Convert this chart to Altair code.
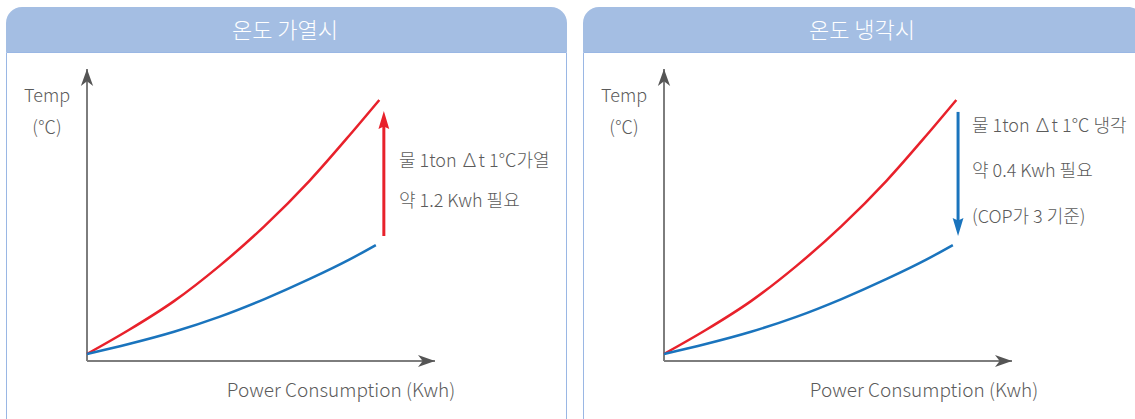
import altair as alt
import pandas as pd

# Curve samples (power in axis units, temperature in axis units)
DIRECT_POWER = [0, 1.2, 2.5, 3.8, 5.1, 6.4, 7.55, 8.4]
DIRECT_TEMP = [0.24, 1.06, 2.05, 3.25, 4.62, 6.18, 7.74, 8.94]
PUMP_POWER = [0, 1.2, 2.5, 3.8, 5.1, 6.4, 7.55, 8.3]
PUMP_TEMP = [0.24, 0.58, 1.0, 1.51, 2.12, 2.81, 3.48, 3.97]

AXIS_MAX = 10

PANEL_TITLES = ["온도 가열시", "온도 냉각시"]
NOTES = [
    ["물 1ton ∆t 1℃가열", "약 1.2 Kwh 필요"],
    ["물 1ton ∆t 1℃ 냉각", "약 0.4 Kwh 필요", "(COP가 3 기준)"],
]
ARROW_X = [8.53, 8.45]
ARROW_FROM = [4.28, 8.53]
ARROW_TO = [8.56, 4.28]
ARROW_COLORS = ["#e8212b", "#1a74bd"]

Y_TITLE = ["Temp", "(℃)"]
X_TITLE = "Power Consumption (Kwh)"

FONT = "Noto Sans CJK KR"
WEIGHT = 300
GRAY = "#5b5b5b"
AXIS_GRAY = "#7d7d7d"
HEAD_GRAY = "#555555"
HEADER_FILL = "#a4bee3"
BORDER = "#9ab7e4"

PANEL_WIDTHS = [577, 558]
HEIGHT = 419
NOTE_X = [399, 395]
NOTE_Y = [[162, 202], [127, 172, 218]]
XLABEL_X = [341, 347]

AXIS_HEAD = "M0,-1L0.72,1L0,0.45L-0.72,1Z"
ARROW_HEAD = "M0,-1L0.6,1L0,0.72L-0.6,1Z"

curves = pd.concat([
    pd.DataFrame({"power": DIRECT_POWER, "temp": DIRECT_TEMP, "series": "direct"}),
    pd.DataFrame({"power": PUMP_POWER, "temp": PUMP_TEMP, "series": "pump"}),
])

one = alt.Data(values=[{}])


def panel(i):
    xs = alt.Scale(domain=[0, AXIS_MAX], range=[87, 435])
    ys = alt.Scale(domain=[0, AXIS_MAX], range=[361, 69])

    def X(f):
        return alt.X(f, type="quantitative", scale=xs, axis=None)

    def Y(f):
        return alt.Y(f, type="quantitative", scale=ys, axis=None)

    body = alt.Chart(one).mark_rect(
        fill="white", stroke=BORDER, strokeWidth=1, clip=True
    ).encode(x=alt.value(6.5), x2=alt.value(566.5), y=alt.value(52.5), y2=alt.value(470))

    header = alt.Chart(one).mark_rect(
        fill=HEADER_FILL, cornerRadiusTopLeft=16, cornerRadiusTopRight=16, clip=True
    ).encode(x=alt.value(6), x2=alt.value(567), y=alt.value(7), y2=alt.value(52))

    title = alt.Chart(one).mark_text(
        text=PANEL_TITLES[i], font=FONT, fontSize=22, fontWeight=WEIGHT, color="white",
        align="center", baseline="middle"
    ).encode(x=alt.value(285), y=alt.value(31))

    axes_df = pd.DataFrame({
        "x": [0, 0], "x2": [AXIS_MAX, 0], "y": [0, 0], "y2": [0, AXIS_MAX]
    })
    axes = alt.Chart(axes_df).mark_rule(color=AXIS_GRAY, strokeWidth=2).encode(
        x=X("x"), x2="x2", y=Y("y"), y2="y2"
    )

    head_df = pd.DataFrame({"x": [AXIS_MAX], "y": [0]})
    x_head = alt.Chart(head_df).mark_point(
        shape=AXIS_HEAD, size=289, filled=True, opacity=1, color=HEAD_GRAY,
        angle=90, xOffset=-8.5
    ).encode(x=X("x"), y=Y("y"))
    vhead_df = pd.DataFrame({"x": [0], "y": [AXIS_MAX]})
    y_head = alt.Chart(vhead_df).mark_point(
        shape=AXIS_HEAD, size=289, filled=True, opacity=1, color=HEAD_GRAY,
        yOffset=8.5
    ).encode(x=X("x"), y=Y("y"))

    lines = alt.Chart(curves).mark_line(strokeWidth=2.5, interpolate="monotone").encode(
        x=X("power"), y=Y("temp"),
        color=alt.Color("series:N", scale=alt.Scale(domain=["direct", "pump"],
                                                    range=["#e8212b", "#1a74bd"]),
                        legend=None),
    )

    up = ARROW_TO[i] > ARROW_FROM[i]
    shaft_end = ARROW_TO[i] - 0.45 if up else ARROW_TO[i] + 0.45
    arrow_df = pd.DataFrame({"x": [ARROW_X[i]], "y": [ARROW_FROM[i]],
                             "y2": [shaft_end], "tip": [ARROW_TO[i]]})
    shaft = alt.Chart(arrow_df).mark_rule(color=ARROW_COLORS[i], strokeWidth=3).encode(
        x=X("x"), y=Y("y"), y2="y2"
    )
    head = alt.Chart(arrow_df).mark_point(
        shape=ARROW_HEAD, size=324, filled=True, opacity=1, color=ARROW_COLORS[i],
        angle=0 if up else 180, yOffset=9 if up else -9
    ).encode(x=X("x"), y=Y("tip"))

    note_df = pd.DataFrame({"text": NOTES[i], "py": NOTE_Y[i]})
    notes = alt.Chart(note_df).mark_text(
        font=FONT, fontSize=18, fontWeight=WEIGHT, color=GRAY, align="left", baseline="middle"
    ).encode(x=alt.value(NOTE_X[i]), y=alt.Y("py:Q", scale=None), text="text:N")

    ytitle_df = pd.DataFrame({"text": Y_TITLE, "py": [97, 129]})
    ytitle = alt.Chart(ytitle_df).mark_text(
        font=FONT, fontSize=18, fontWeight=WEIGHT, color=GRAY, align="center", baseline="middle"
    ).encode(x=alt.value(47), y=alt.Y("py:Q", scale=None), text="text:N")

    xtitle = alt.Chart(one).mark_text(
        text=X_TITLE, font=FONT, fontSize=19, fontWeight=WEIGHT, color=GRAY,
        align="center", baseline="middle"
    ).encode(x=alt.value(XLABEL_X[i]), y=alt.value(391))

    return alt.layer(
        body, header, title, axes, x_head, y_head, lines, shaft, head, notes, ytitle, xtitle
    ).properties(width=PANEL_WIDTHS[i], height=HEIGHT)


chart = alt.hconcat(panel(0), panel(1), spacing=0).properties(
    padding=0, background="white"
).configure_view(strokeWidth=0)

chart.save("out.html", embed_options={"renderer": "svg", "actions": False})
